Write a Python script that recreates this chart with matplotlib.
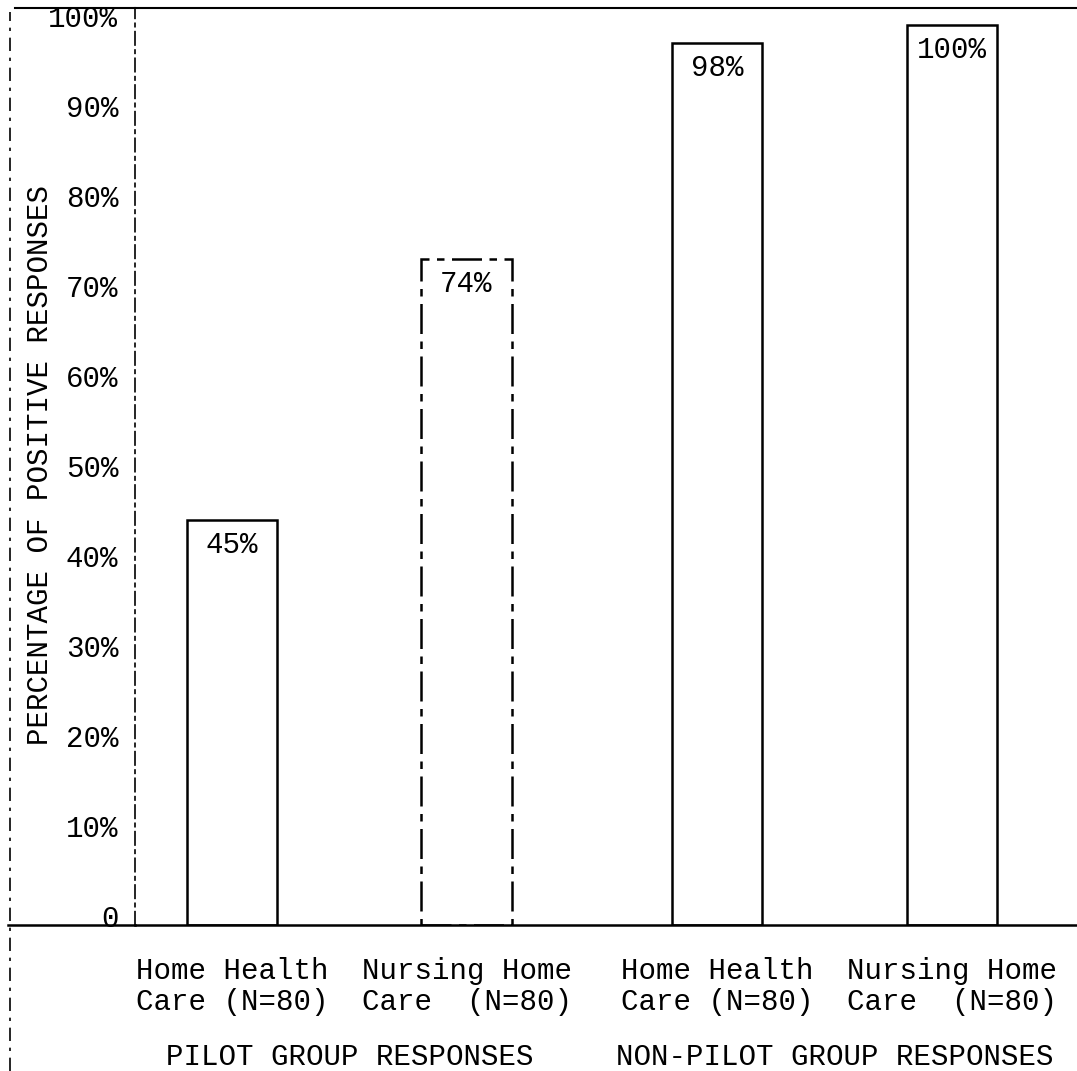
import numpy as np
import matplotlib.pyplot as plt
from matplotlib.lines import Line2D
from matplotlib.transforms import ScaledTranslation

plt.rcParams['font.family'] = ['Liberation Mono', 'DejaVu Sans Mono']

# data
categories = ["Home Health\nCare (N=80)", "Nursing Home\nCare  (N=80)",
              "Home Health\nCare (N=80)", "Nursing Home\nCare  (N=80)"]
group_of_bar = [0, 0, 1, 1]
groups = ["PILOT GROUP RESPONSES", "NON-PILOT GROUP RESPONSES"]
percent_positive = [45, 74, 98, 100]
y_ticks = [0, 10, 20, 30, 40, 50, 60, 70, 80, 90, 100]
y_tick_labels = ["0", "10%", "20%", "30%", "40%", "50%",
                 "60%", "70%", "80%", "90%", "100%"]

FS = 21
W, H = 1077, 1071
fig = plt.figure(figsize=(W / 100, H / 100), dpi=100)
ax = fig.add_axes([135 / W, (H - 925) / H, (W - 135) / W, 917 / H])

gap = 0.07
x = np.arange(len(categories)) + np.array(group_of_bar) * gap
bars = ax.bar(x, percent_positive, width=0.384, fill=False,
              edgecolor='black', linewidth=1.8)
bars[1].set_linestyle((0, (12, 3, 3, 3)))

for xi, v in zip(x, percent_positive):
    ax.annotate(f"{v}%", (xi, v), xytext=(0, -8), textcoords='offset points',
                ha='center', va='top', fontsize=FS)

ax.set_ylim(0, 917 / 9)
ax.set_xlim(-97 / 234.5, 845 / 234.5)

ax.set_yticks(y_ticks, y_tick_labels, fontsize=FS)
ax.tick_params(axis='y', length=0, pad=12)
for lab in ax.get_yticklabels():
    lab.set_transform(lab.get_transform() +
                      ScaledTranslation(0, 0.09, fig.dpi_scale_trans))

ax.set_xticks(x, categories, fontsize=FS, multialignment='left',
              linespacing=1.13)
ax.tick_params(axis='x', length=0, pad=23)

ax.set_ylabel("PERCENTAGE OF POSITIVE RESPONSES", fontsize=FS, va='center')
ax.yaxis.set_label_coords(-95 / 942, (925 - 465) / 917)

for g, name in enumerate(groups):
    xs = x[np.array(group_of_bar) == g]
    ax.text(xs.mean(), -140 / 917, name, transform=ax.get_xaxis_transform(),
            ha='center', va='baseline', fontsize=FS)

ax.spines['right'].set_visible(False)
ax.spines['top'].set_linewidth(1.5)
ax.spines['bottom'].set_linewidth(1.8)
ax.spines['left'].set_linewidth(1.2)
ax.spines['left'].set_linestyle((0, (8, 3, 2, 3)))

# outer frame pieces of the typed page
fig.add_artist(Line2D([8 / W, 135 / W], [(H - 925) / H] * 2,
                      color='black', lw=1.8))
fig.add_artist(Line2D([15 / W, 135 / W], [(H - 8) / H] * 2,
                      color='black', lw=1.5))
fig.add_artist(Line2D([10 / W, 10 / W], [0, (H - 12) / H],
                      color='black', lw=1.2, linestyle=(0, (8, 4, 2, 4))))

fig.savefig("out.png", dpi=100)
